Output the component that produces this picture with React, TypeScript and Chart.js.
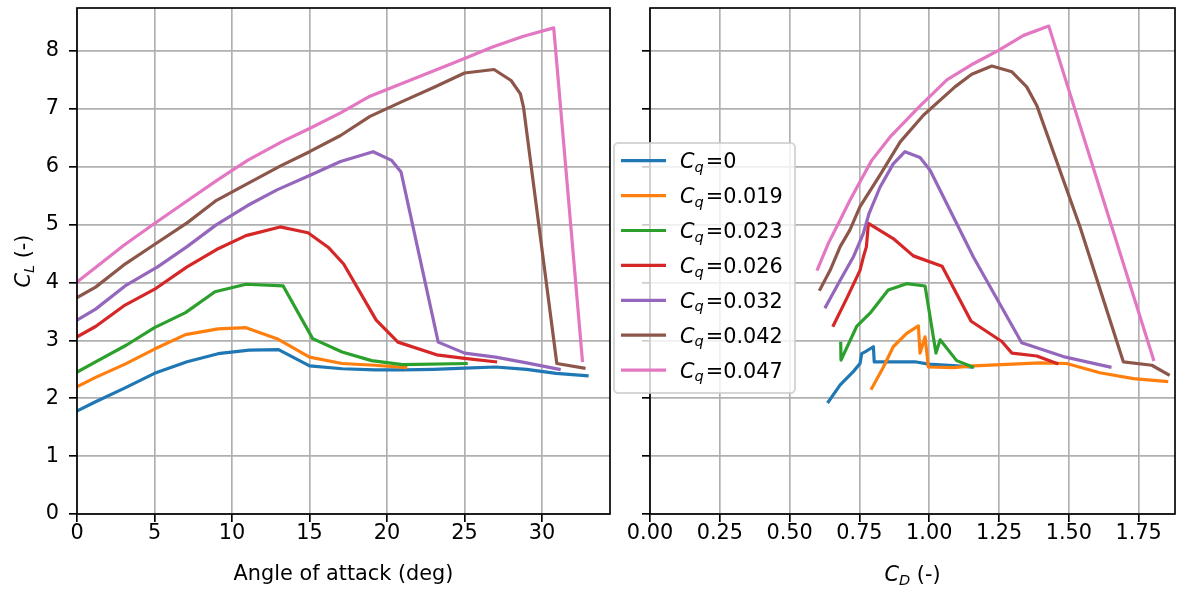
import React, { useEffect, useRef } from 'react';
import { Chart, registerables } from 'chart.js';

Chart.register(...registerables);

// ---------- data ----------
const SERIES_LABELS = ['0', '0.019', '0.023', '0.026', '0.032', '0.042', '0.047'];
const COLORS = ['#1f77b4', '#ff7f0e', '#2ca02c', '#d62728', '#9467bd', '#8c564b', '#e377c2'];

// Left panel: angle of attack (deg) vs C_L
const AOA_0 = [0, 1.2, 3.1, 5.0, 7.1, 9.1, 11.1, 13.0, 15.0, 17.1, 19.2, 21.1, 23.0, 25.0, 27.0, 29.0, 30.9, 32.9];
const CL_AOA_0 = [1.78, 1.94, 2.18, 2.43, 2.63, 2.77, 2.83, 2.84, 2.56, 2.51, 2.49, 2.49, 2.5, 2.52, 2.54, 2.5, 2.43, 2.39];
const AOA_019 = [0, 1.2, 3.1, 5.0, 7.0, 9.1, 10.9, 12.9, 15.0, 17.1, 19.2, 21.2];
const CL_AOA_019 = [2.2, 2.36, 2.59, 2.85, 3.1, 3.2, 3.22, 3.03, 2.71, 2.6, 2.57, 2.53];
const AOA_023 = [0, 1.2, 3.2, 5.0, 7.0, 8.9, 10.9, 13.3, 15.2, 17.1, 19.0, 21.0, 25.1];
const CL_AOA_023 = [2.45, 2.63, 2.92, 3.22, 3.48, 3.84, 3.97, 3.94, 3.03, 2.8, 2.65, 2.58, 2.6];
const AOA_026 = [0, 1.2, 3.1, 5.1, 7.1, 9.0, 10.9, 13.1, 14.9, 16.2, 17.2, 19.3, 20.7, 23.2, 25.0, 27.0];
const CL_AOA_026 = [3.06, 3.24, 3.61, 3.9, 4.27, 4.57, 4.81, 4.96, 4.86, 4.61, 4.32, 3.35, 2.97, 2.75, 2.69, 2.63];
const AOA_032 = [0, 1.2, 3.1, 5.2, 7.1, 9.0, 11.0, 12.9, 15.0, 17.0, 19.1, 20.3, 20.9, 23.3, 25.0, 27.0, 29.0, 31.1];
const CL_AOA_032 = [3.35, 3.54, 3.94, 4.27, 4.62, 5.0, 5.33, 5.6, 5.85, 6.09, 6.26, 6.11, 5.91, 2.97, 2.78, 2.71, 2.61, 2.5];
const AOA_042 = [0, 1.2, 3.0, 4.9, 7.1, 9.0, 11.0, 13.1, 15.0, 17.0, 18.9, 21.0, 23.0, 25.0, 26.9, 28.0, 28.6, 28.8, 30.95, 32.7];
const CL_AOA_042 = [3.74, 3.92, 4.3, 4.64, 5.03, 5.42, 5.71, 6.01, 6.26, 6.54, 6.87, 7.13, 7.37, 7.62, 7.68, 7.49, 7.26, 7.03, 2.6, 2.52];
const AOA_047 = [0, 1.2, 3.0, 5.0, 7.0, 9.0, 11.0, 13.2, 15.0, 17.0, 18.9, 25.0, 26.8, 28.75, 30.75, 32.6];
const CL_AOA_047 = [4.01, 4.26, 4.64, 5.02, 5.39, 5.76, 6.11, 6.43, 6.66, 6.93, 7.22, 7.87, 8.07, 8.25, 8.4, 2.65];

// Right panel: C_D vs C_L
const CD_0 = [0.639, 0.681, 0.728, 0.752, 0.758, 0.77, 0.8, 0.803, 0.949, 0.997, 1.098, 1.152];
const CL_CD_0 = [1.94, 2.23, 2.46, 2.6, 2.77, 2.8, 2.89, 2.63, 2.63, 2.59, 2.56, 2.54];
const CD_019 = [0.794, 0.836, 0.871, 0.919, 0.961, 0.967, 0.985, 0.997, 1.086, 1.158, 1.397, 1.492, 1.611, 1.731, 1.85];
const CL_CD_019 = [2.17, 2.54, 2.89, 3.12, 3.25, 2.78, 3.06, 2.54, 2.53, 2.56, 2.61, 2.6, 2.44, 2.34, 2.29];
const CD_023 = [0.683, 0.684, 0.74, 0.788, 0.853, 0.919, 0.985, 1.024, 1.039, 1.098, 1.155];
const CL_CD_023 = [2.95, 2.66, 3.24, 3.47, 3.87, 3.98, 3.94, 2.78, 3.01, 2.65, 2.54];
const CD_026 = [0.657, 0.705, 0.752, 0.764, 0.775, 0.782, 0.871, 0.943, 1.046, 1.15, 1.26, 1.296, 1.385, 1.457];
const CL_CD_026 = [3.26, 3.73, 4.21, 4.44, 4.62, 5.02, 4.76, 4.46, 4.28, 3.33, 2.98, 2.78, 2.73, 2.6];
const CD_032 = [0.629, 0.681, 0.728, 0.764, 0.785, 0.824, 0.871, 0.913, 0.967, 1.003, 1.158, 1.331, 1.48, 1.647];
const CL_CD_032 = [3.58, 4.04, 4.44, 4.85, 5.2, 5.65, 6.05, 6.26, 6.16, 5.94, 4.44, 2.96, 2.72, 2.54];
const CD_042 = [0.609, 0.645, 0.681, 0.716, 0.752, 0.824, 0.896, 0.979, 1.092, 1.152, 1.224, 1.296, 1.349, 1.385, 1.54, 1.695, 1.797, 1.856];
const CL_CD_042 = [3.88, 4.21, 4.62, 4.91, 5.31, 5.86, 6.43, 6.89, 7.38, 7.6, 7.74, 7.64, 7.38, 7.06, 4.96, 2.63, 2.57, 2.41];
const CD_047 = [0.6, 0.639, 0.681, 0.716, 0.752, 0.794, 0.859, 0.961, 1.063, 1.158, 1.248, 1.338, 1.428, 1.803];
const CL_CD_047 = [4.23, 4.68, 5.08, 5.42, 5.74, 6.11, 6.51, 7.02, 7.5, 7.78, 8.01, 8.27, 8.43, 2.67];

const AOA_X = [AOA_0, AOA_019, AOA_023, AOA_026, AOA_032, AOA_042, AOA_047];
const AOA_Y = [CL_AOA_0, CL_AOA_019, CL_AOA_023, CL_AOA_026, CL_AOA_032, CL_AOA_042, CL_AOA_047];
const CD_X = [CD_0, CD_019, CD_023, CD_026, CD_032, CD_042, CD_047];
const CD_Y = [CL_CD_0, CL_CD_019, CL_CD_023, CL_CD_026, CL_CD_032, CL_CD_042, CL_CD_047];

// axis ranges / ticks
const CL_MIN = 0;
const CL_MAX = 8.743;
const CL_STEP = 1;
const AOA_MIN = 0;
const AOA_MAX = 34.38;
const AOA_STEP = 5;
const CD_MIN = 0;
const CD_MAX = 1.88;
const CD_STEP = 0.25;

// ---------- style ----------
const FONT = '"DejaVu Sans"';
const FS = 20.8;
const SUB_SHIFT = 3.5;
const LINE_W = 3.2;
const GRID = '#b0b0b0';
const SPINE_W = 1.67;

type Part = { t: string; it?: boolean; sub?: boolean; gap?: number };

function drawMath(ctx: CanvasRenderingContext2D, parts: Part[], x: number, y: number, draw = true): number {
  let cx = x;
  for (const p of parts) {
    const size = p.sub ? FS * 0.7 : FS;
    ctx.font = `${p.it ? 'italic ' : ''}${size}px ${FONT}`;
    cx += p.gap || 0;
    if (draw) ctx.fillText(p.t, cx, y + (p.sub ? SUB_SHIFT : 0));
    cx += ctx.measureText(p.t).width;
  }
  return cx - x;
}

const framePlugin = {
  id: 'frame',
  afterDatasetsDraw(chart: any) {
    const { ctx, chartArea: a } = chart;
    ctx.save();
    ctx.strokeStyle = '#000';
    ctx.lineWidth = SPINE_W;
    ctx.strokeRect(a.left, a.top, a.right - a.left, a.bottom - a.top);
    ctx.restore();
  },
};

const LEFT_W = 620;
const RIGHT_X = 600;
const RIGHT_W = 582;
const H = 592;

function buildDatasets(xs: number[][], ys: number[][]) {
  return xs.map((xv, i) => ({
    label: 'Cq=' + SERIES_LABELS[i],
    data: xv.map((x, j) => ({ x, y: ys[i][j] })),
    borderColor: COLORS[i],
    backgroundColor: COLORS[i],
    borderWidth: LINE_W,
    showLine: true,
    pointRadius: 0,
    pointHoverRadius: 0,
    tension: 0,
    borderCapStyle: 'square',
    borderJoinStyle: 'round',
    order: xs.length - i,
  }));
}

function zeroPad(s: any) {
  s.paddingTop = 0;
  s.paddingBottom = 0;
  s.paddingLeft = 0;
  s.paddingRight = 0;
}

function makeOptions(opts: {
  xMin: number; xMax: number; xStep: number; fmt: (v: number) => string;
  yLabels: boolean; yWidth: number; padRight: number; xTitle?: string;
}) {
  return {
    responsive: false,
    maintainAspectRatio: false,
    animation: false,
    devicePixelRatio: 1,
    events: [],
    layout: { padding: { left: 0, right: opts.padRight, top: 8, bottom: 0 } },
    plugins: { legend: { display: false }, tooltip: { enabled: false } },
    scales: {
      x: {
        type: 'linear',
        min: opts.xMin,
        max: opts.xMax,
        ticks: {
          stepSize: opts.xStep,
          includeBounds: false,
          autoSkip: false,
          maxRotation: 0,
          padding: -1,
          color: '#000',
          font: { family: FONT, size: FS },
          callback: (v: number) => opts.fmt(v),
        },
        grid: { color: GRID, lineWidth: SPINE_W, tickLength: 8, tickColor: '#000', tickWidth: SPINE_W },
        border: { display: false },
        title: opts.xTitle
          ? { display: true, text: opts.xTitle, color: '#000', font: { family: FONT, size: FS }, padding: { top: 0, bottom: 5 } }
          : { display: false },
        afterFit: (s: any) => { s.height = 78; zeroPad(s); },
      },
      y: {
        type: 'linear',
        min: CL_MIN,
        max: CL_MAX,
        ticks: {
          stepSize: CL_STEP,
          includeBounds: false,
          padding: 10,
          color: opts.yLabels ? '#000' : 'rgba(0,0,0,0)',
          font: { family: FONT, size: FS },
          callback: (v: number) => String(v),
        },
        grid: { color: GRID, lineWidth: SPINE_W, tickLength: 8, tickColor: '#000', tickWidth: SPINE_W },
        border: { display: false },
        afterFit: (s: any) => { s.width = opts.yWidth; zeroPad(s); },
      },
    },
  };
}

const yLabelPlugin = {
  id: 'ylabel',
  afterDraw(chart: any) {
    const ctx = chart.ctx as CanvasRenderingContext2D;
    const a = chart.chartArea;
    const parts: Part[] = [{ t: 'C', it: true }, { t: 'L', it: true, sub: true }, { t: ' (-)' }];
    ctx.save();
    ctx.fillStyle = '#000';
    ctx.textBaseline = 'alphabetic';
    ctx.textAlign = 'left';
    const w = drawMath(ctx, parts, 0, 0, false);
    ctx.translate(30, (a.top + a.bottom) / 2);
    ctx.rotate(-Math.PI / 2);
    drawMath(ctx, parts, -w / 2, 0);
    ctx.restore();
  },
};

const rightDecorPlugin = {
  id: 'rightdecor',
  afterDraw(chart: any) {
    const ctx = chart.ctx as CanvasRenderingContext2D;
    const a = chart.chartArea;
    ctx.save();
    ctx.fillStyle = '#000';
    ctx.textBaseline = 'alphabetic';
    ctx.textAlign = 'left';
    // x label C_D (-)
    const xparts: Part[] = [{ t: 'C', it: true }, { t: 'D', it: true, sub: true }, { t: ' (-)' }];
    const w = drawMath(ctx, xparts, 0, 0, false);
    drawMath(ctx, xparts, (a.left + a.right) / 2 - w / 2, 581);

    // legend (absolute page coords shifted by canvas offset)
    const ox = -RIGHT_X;
    const lx = 614 + ox, ly = 143, lw = 181, lh = 250;
    ctx.beginPath();
    ctx.roundRect(lx, ly, lw, lh, 4.2);
    ctx.fillStyle = 'rgba(255,255,255,0.8)';
    ctx.fill();
    ctx.strokeStyle = 'rgba(204,204,204,0.8)';
    ctx.lineWidth = 2;
    ctx.stroke();
    for (let i = 0; i < SERIES_LABELS.length; i++) {
      const cy = 160.7 + i * 34.9;
      ctx.beginPath();
      ctx.moveTo(621 + ox, cy);
      ctx.lineTo(666 + ox, cy);
      ctx.strokeStyle = COLORS[i];
      ctx.lineWidth = LINE_W;
      ctx.lineCap = 'butt';
      ctx.stroke();
      ctx.fillStyle = '#000';
      drawMath(ctx, [
        { t: 'C', it: true },
        { t: 'q', it: true, sub: true },
        { t: '=' + SERIES_LABELS[i], gap: 2 },
      ], 680 + ox, cy + 7.6);
    }
    ctx.restore();
  },
};

export default function App() {
  const leftRef = useRef<HTMLCanvasElement>(null);
  const rightRef = useRef<HTMLCanvasElement>(null);

  useEffect(() => {
    const left = new Chart(leftRef.current as HTMLCanvasElement, {
      type: 'scatter',
      data: { datasets: buildDatasets(AOA_X, AOA_Y) as any },
      options: makeOptions({
        xMin: AOA_MIN, xMax: AOA_MAX, xStep: AOA_STEP, fmt: (v) => String(v),
        yLabels: true, yWidth: 77, padRight: LEFT_W - 610, xTitle: 'Angle of attack (deg)',
      }) as any,
      plugins: [framePlugin, yLabelPlugin],
    });
    const right = new Chart(rightRef.current as HTMLCanvasElement, {
      type: 'scatter',
      data: { datasets: buildDatasets(CD_X, CD_Y) as any },
      options: makeOptions({
        xMin: CD_MIN, xMax: CD_MAX, xStep: CD_STEP, fmt: (v) => v.toFixed(2),
        yLabels: false, yWidth: 650 - RIGHT_X, padRight: RIGHT_X + RIGHT_W - 1175,
      }) as any,
      plugins: [framePlugin, rightDecorPlugin],
    });
    return () => {
      left.destroy();
      right.destroy();
    };
  }, []);

  return (
    <div style={{ position: 'fixed', left: 0, top: 0, width: 1182, height: H, background: '#fff', overflow: 'hidden' }}>
      <canvas ref={leftRef} width={LEFT_W} height={H} style={{ position: 'absolute', left: 0, top: 0, width: LEFT_W, height: H }} />
      <canvas ref={rightRef} width={RIGHT_W} height={H} style={{ position: 'absolute', left: RIGHT_X, top: 0, width: RIGHT_W, height: H }} />
    </div>
  );
}
